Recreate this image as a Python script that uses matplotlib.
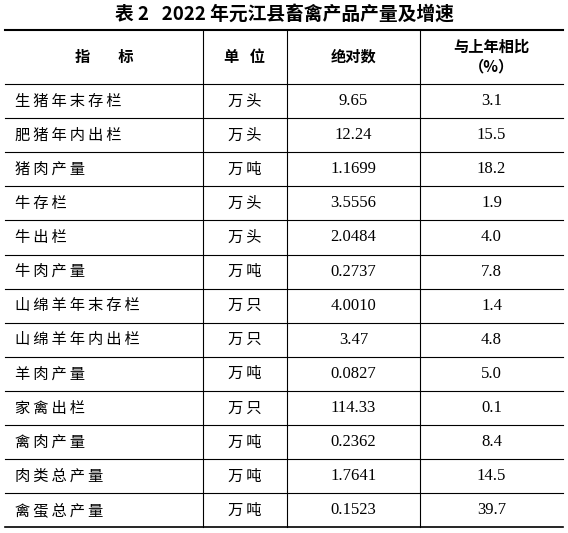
import matplotlib
matplotlib.use("Agg")
import matplotlib.pyplot as plt

title = "表 2   2022 年元江县畜禽产品产量及增速"
headers = ["指        标", "单   位", "绝对数", "与上年相比\n（%）"]
indicators = ["生猪年末存栏", "肥猪年内出栏", "猪肉产量", "牛存栏", "牛出栏", "牛肉产量",
              "山绵羊年末存栏", "山绵羊年内出栏", "羊肉产量", "家禽出栏", "禽肉产量",
              "肉类总产量", "禽蛋总产量"]
units = ["万头", "万头", "万吨", "万头", "万头", "万吨", "万只", "万只", "万吨", "万只",
         "万吨", "万吨", "万吨"]
values = ["9.65", "12.24", "1.1699", "3.5556", "2.0484", "0.2737", "4.0010", "3.47",
          "0.0827", "114.33", "0.2362", "1.7641", "0.1523"]
growth = ["3.1", "15.5", "18.2", "1.9", "4.0", "7.8", "1.4", "4.8", "5.0", "0.1",
          "8.4", "14.5", "39.7"]

W, H = 568, 533
fig = plt.figure(figsize=(W/100, H/100), dpi=100)
ax = fig.add_axes([0, 0, 1, 1])
ax.set_xlim(0, W); ax.set_ylim(H, 0); ax.axis("off")

cjk = ["Noto Sans CJK SC", "DejaVu Sans"]
ser = ["Liberation Serif", "Noto Sans CJK SC"]
ax.text(W/2, 14, title, ha="center", va="center", fontsize=13.5, fontweight="bold", family=cjk)

xs = [5, 203, 287, 420, 563]
top, hdr, rh = 30, 84, 34.1
n = len(indicators)
bottom = hdr + rh*n
ax.plot([xs[0], xs[-1]], [top, top], color="black", lw=1.5)
ax.plot([xs[0], xs[-1]], [hdr, hdr], color="black", lw=0.8)
for i in range(1, n+1):
    y = hdr + rh*i
    ax.plot([xs[0], xs[-1]], [y, y], color="black", lw=1.2 if i == n else 0.8)
for x in xs[1:-1]:
    ax.plot([x, x], [top, bottom], color="black", lw=0.8)

for j, h in enumerate(headers):
    cx = (xs[j]+xs[j+1])/2
    ax.text(cx, (top+hdr)/2, h, ha="center", va="center", fontsize=11, fontweight="bold",
            family=cjk, linespacing=1.3)

for i in range(n):
    cy = hdr + rh*(i+0.5)
    ax.text(xs[0]+10, cy, " ".join(indicators[i]).replace(" ", "\u2009"), ha="left",
            va="center", fontsize=11, family=["Noto Sans CJK SC", "DejaVu Sans"])
    ax.text((xs[1]+xs[2])/2, cy, units[i][0] + "\u2009" + units[i][1], ha="center",
            va="center", fontsize=11, family=["Noto Sans CJK SC", "DejaVu Sans"])
    ax.text((xs[2]+xs[3])/2, cy, values[i], ha="center", va="center", fontsize=12, family=ser)
    ax.text((xs[3]+xs[4])/2, cy, growth[i], ha="center", va="center", fontsize=12, family=ser)

fig.savefig("out.png", dpi=100)
